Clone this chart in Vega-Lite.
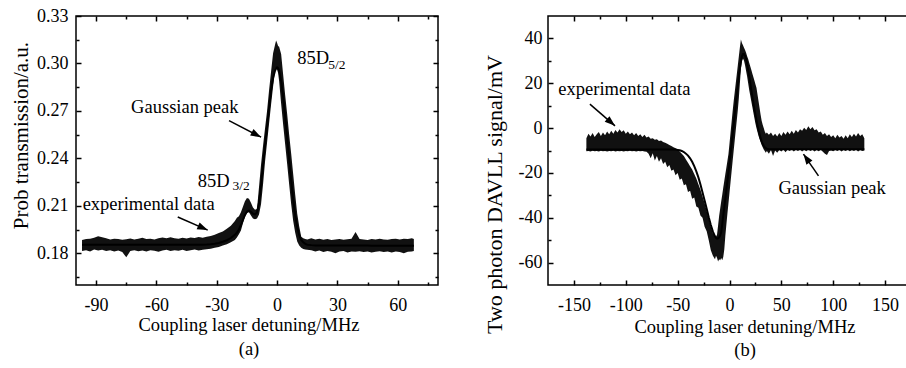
{
"$schema": "https://vega.github.io/schema/vega-lite/v6.json",
"padding": {"left": 9, "top": 6, "right": 0, "bottom": 0},
"spacing": 110,
"bounds": "flush",
"config": {
 "view": {"stroke": "black", "strokeWidth": 1.5},
 "font": "Liberation Serif",
 "axis": {"grid": false, "domain": false, "labelFont": "Liberation Serif", "labelFontSize": 18, "labelColor": "black", "tickColor": "black", "tickWidth": 1.5, "labelFlush": false, "labelOverlap": false, "titleFont": "Liberation Serif", "titleColor": "black", "titleFontWeight": "normal"},
 "text": {"font": "Liberation Serif", "color": "black"}
},
"datasets": {
 "a": [
  {"x":-97,"lo":0.1815,"hi":0.1885,"fit":0.1855},
  {"x":-95,"lo":0.1820,"hi":0.1890,"fit":0.1855},
  {"x":-93,"lo":0.1812,"hi":0.1892,"fit":0.1855},
  {"x":-91,"lo":0.1825,"hi":0.1898,"fit":0.1855},
  {"x":-89,"lo":0.1818,"hi":0.1908,"fit":0.1855},
  {"x":-87,"lo":0.1822,"hi":0.1902,"fit":0.1855},
  {"x":-85,"lo":0.1815,"hi":0.1895,"fit":0.1855},
  {"x":-83,"lo":0.1820,"hi":0.1888,"fit":0.1855},
  {"x":-81,"lo":0.1812,"hi":0.1893,"fit":0.1855},
  {"x":-79,"lo":0.1818,"hi":0.1890,"fit":0.1855},
  {"x":-77,"lo":0.1808,"hi":0.1886,"fit":0.1855},
  {"x":-75,"lo":0.1775,"hi":0.1889,"fit":0.1855},
  {"x":-73,"lo":0.1815,"hi":0.1894,"fit":0.1855},
  {"x":-71,"lo":0.1820,"hi":0.1888,"fit":0.1855},
  {"x":-69,"lo":0.1814,"hi":0.1892,"fit":0.1855},
  {"x":-67,"lo":0.1818,"hi":0.1898,"fit":0.1855},
  {"x":-65,"lo":0.1812,"hi":0.1890,"fit":0.1855},
  {"x":-63,"lo":0.1820,"hi":0.1893,"fit":0.1855},
  {"x":-61,"lo":0.1816,"hi":0.1888,"fit":0.1855},
  {"x":-59,"lo":0.1810,"hi":0.1895,"fit":0.1855},
  {"x":-57,"lo":0.1818,"hi":0.1900,"fit":0.1855},
  {"x":-55,"lo":0.1822,"hi":0.1896,"fit":0.1855},
  {"x":-53,"lo":0.1815,"hi":0.1902,"fit":0.1855},
  {"x":-51,"lo":0.1820,"hi":0.1895,"fit":0.1855},
  {"x":-49,"lo":0.1817,"hi":0.1893,"fit":0.1855},
  {"x":-47,"lo":0.1822,"hi":0.1898,"fit":0.1855},
  {"x":-45,"lo":0.1815,"hi":0.1894,"fit":0.1855},
  {"x":-43,"lo":0.1820,"hi":0.1900,"fit":0.1855},
  {"x":-41,"lo":0.1824,"hi":0.1897,"fit":0.1855},
  {"x":-39,"lo":0.1818,"hi":0.1903,"fit":0.1855},
  {"x":-37,"lo":0.1823,"hi":0.1899,"fit":0.1855},
  {"x":-35,"lo":0.1826,"hi":0.1905,"fit":0.1856},
  {"x":-33,"lo":0.1829,"hi":0.1910,"fit":0.1858},
  {"x":-31,"lo":0.1835,"hi":0.1918,"fit":0.1861},
  {"x":-29,"lo":0.1840,"hi":0.1928,"fit":0.1866},
  {"x":-27,"lo":0.1850,"hi":0.1938,"fit":0.1873},
  {"x":-25,"lo":0.1858,"hi":0.1955,"fit":0.1883},
  {"x":-23,"lo":0.1870,"hi":0.1975,"fit":0.1897},
  {"x":-21,"lo":0.1885,"hi":0.2005,"fit":0.1917},
  {"x":-20,"lo":0.1900,"hi":0.2025,"fit":0.1931},
  {"x":-19,"lo":0.1920,"hi":0.2035,"fit":0.1951},
  {"x":-18,"lo":0.1945,"hi":0.2060,"fit":0.1979},
  {"x":-17,"lo":0.1990,"hi":0.2095,"fit":0.2012},
  {"x":-16,"lo":0.2030,"hi":0.2130,"fit":0.2043},
  {"x":-15,"lo":0.2055,"hi":0.2150,"fit":0.2064},
  {"x":-14,"lo":0.2060,"hi":0.2145,"fit":0.2070},
  {"x":-13,"lo":0.2040,"hi":0.2120,"fit":0.2062},
  {"x":-12,"lo":0.2020,"hi":0.2090,"fit":0.2050},
  {"x":-11,"lo":0.2015,"hi":0.2075,"fit":0.2046},
  {"x":-10,"lo":0.2020,"hi":0.2080,"fit":0.2058},
  {"x":-9,"lo":0.2045,"hi":0.2220,"fit":0.2120},
  {"x":-8,"lo":0.2110,"hi":0.2360,"fit":0.2230},
  {"x":-7,"lo":0.2235,"hi":0.2480,"fit":0.2360},
  {"x":-6,"lo":0.2380,"hi":0.2590,"fit":0.2480},
  {"x":-5,"lo":0.2500,"hi":0.2700,"fit":0.2600},
  {"x":-4,"lo":0.2620,"hi":0.2830,"fit":0.2720},
  {"x":-3,"lo":0.2740,"hi":0.2950,"fit":0.2830},
  {"x":-2,"lo":0.2855,"hi":0.3065,"fit":0.2910},
  {"x":-1,"lo":0.2955,"hi":0.3120,"fit":0.2955},
  {"x":-0.5,"lo":0.2975,"hi":0.3145,"fit":0.2968},
  {"x":0,"lo":0.2960,"hi":0.3130,"fit":0.2975},
  {"x":0.5,"lo":0.2940,"hi":0.3110,"fit":0.2970},
  {"x":1,"lo":0.2890,"hi":0.3105,"fit":0.2955},
  {"x":2,"lo":0.2745,"hi":0.3060,"fit":0.2890},
  {"x":3,"lo":0.2615,"hi":0.2930,"fit":0.2790},
  {"x":4,"lo":0.2490,"hi":0.2800,"fit":0.2665},
  {"x":5,"lo":0.2365,"hi":0.2680,"fit":0.2530},
  {"x":6,"lo":0.2235,"hi":0.2550,"fit":0.2390},
  {"x":7,"lo":0.2110,"hi":0.2430,"fit":0.2260},
  {"x":8,"lo":0.2005,"hi":0.2300,"fit":0.2140},
  {"x":9,"lo":0.1930,"hi":0.2170,"fit":0.2040},
  {"x":10,"lo":0.1875,"hi":0.2050,"fit":0.1965},
  {"x":11,"lo":0.1850,"hi":0.1970,"fit":0.1915},
  {"x":12,"lo":0.1835,"hi":0.1905,"fit":0.1885},
  {"x":13,"lo":0.1828,"hi":0.1895,"fit":0.1870},
  {"x":14,"lo":0.1825,"hi":0.1890,"fit":0.1860},
  {"x":15,"lo":0.1822,"hi":0.1888,"fit":0.1855},
  {"x":17,"lo":0.1820,"hi":0.1895,"fit":0.1852},
  {"x":19,"lo":0.1812,"hi":0.1888,"fit":0.1850},
  {"x":21,"lo":0.1818,"hi":0.1892,"fit":0.1850},
  {"x":23,"lo":0.1808,"hi":0.1886,"fit":0.1850},
  {"x":25,"lo":0.1815,"hi":0.1890,"fit":0.1850},
  {"x":27,"lo":0.1810,"hi":0.1885,"fit":0.1850},
  {"x":29,"lo":0.1800,"hi":0.1888,"fit":0.1850},
  {"x":31,"lo":0.1812,"hi":0.1890,"fit":0.1850},
  {"x":33,"lo":0.1815,"hi":0.1886,"fit":0.1849},
  {"x":35,"lo":0.1806,"hi":0.1889,"fit":0.1849},
  {"x":37,"lo":0.1812,"hi":0.1892,"fit":0.1849},
  {"x":39,"lo":0.1810,"hi":0.1935,"fit":0.1849},
  {"x":41,"lo":0.1814,"hi":0.1890,"fit":0.1849},
  {"x":43,"lo":0.1808,"hi":0.1888,"fit":0.1849},
  {"x":45,"lo":0.1812,"hi":0.1885,"fit":0.1849},
  {"x":47,"lo":0.1805,"hi":0.1890,"fit":0.1848},
  {"x":49,"lo":0.1810,"hi":0.1887,"fit":0.1848},
  {"x":51,"lo":0.1814,"hi":0.1892,"fit":0.1848},
  {"x":53,"lo":0.1808,"hi":0.1888,"fit":0.1848},
  {"x":55,"lo":0.1812,"hi":0.1886,"fit":0.1848},
  {"x":57,"lo":0.1806,"hi":0.1890,"fit":0.1848},
  {"x":59,"lo":0.1812,"hi":0.1893,"fit":0.1848},
  {"x":61,"lo":0.1808,"hi":0.1888,"fit":0.1848},
  {"x":63,"lo":0.1800,"hi":0.1892,"fit":0.1848},
  {"x":65,"lo":0.1810,"hi":0.1890,"fit":0.1848},
  {"x":67,"lo":0.1812,"hi":0.1895,"fit":0.1848},
  {"x":68,"lo":0.1815,"hi":0.1890,"fit":0.1848}
 ],
 "b": [
  {"x":-138,"lo":-10.3,"hi":-4.5,"fit":-9.5},
  {"x":-136,"lo":-10.2,"hi":-2.5,"fit":-9.5},
  {"x":-134,"lo":-10.4,"hi":-3.8,"fit":-9.5},
  {"x":-132,"lo":-10.1,"hi":-2.2,"fit":-9.5},
  {"x":-130,"lo":-10.3,"hi":-4.0,"fit":-9.5},
  {"x":-128,"lo":-10.2,"hi":-2.8,"fit":-9.5},
  {"x":-126,"lo":-10.4,"hi":-1.8,"fit":-9.5},
  {"x":-124,"lo":-10.1,"hi":-3.5,"fit":-9.5},
  {"x":-122,"lo":-10.3,"hi":-2.0,"fit":-9.5},
  {"x":-120,"lo":-10.2,"hi":-3.2,"fit":-9.5},
  {"x":-118,"lo":-10.4,"hi":-1.5,"fit":-9.5},
  {"x":-116,"lo":-10.2,"hi":-2.8,"fit":-9.5},
  {"x":-114,"lo":-10.3,"hi":-1.2,"fit":-9.5},
  {"x":-112,"lo":-10.1,"hi":-2.5,"fit":-9.5},
  {"x":-110,"lo":-10.4,"hi":-0.8,"fit":-9.5},
  {"x":-108,"lo":-10.2,"hi":-2.0,"fit":-9.5},
  {"x":-106,"lo":-10.3,"hi":-0.5,"fit":-9.5},
  {"x":-104,"lo":-10.2,"hi":-1.8,"fit":-9.5},
  {"x":-102,"lo":-10.4,"hi":-1.0,"fit":-9.5},
  {"x":-100,"lo":-10.2,"hi":-2.5,"fit":-9.5},
  {"x":-98,"lo":-10.3,"hi":-1.5,"fit":-9.5},
  {"x":-96,"lo":-10.1,"hi":-2.8,"fit":-9.5},
  {"x":-94,"lo":-10.3,"hi":-2.0,"fit":-9.5},
  {"x":-92,"lo":-10.2,"hi":-3.2,"fit":-9.5},
  {"x":-90,"lo":-10.4,"hi":-2.2,"fit":-9.5},
  {"x":-88,"lo":-10.2,"hi":-3.5,"fit":-9.5},
  {"x":-86,"lo":-10.3,"hi":-2.8,"fit":-9.5},
  {"x":-84,"lo":-10.2,"hi":-4.0,"fit":-9.5},
  {"x":-82,"lo":-10.4,"hi":-3.0,"fit":-9.5},
  {"x":-80,"lo":-10.6,"hi":-4.2,"fit":-9.5},
  {"x":-78,"lo":-11.5,"hi":-3.8,"fit":-9.5},
  {"x":-76,"lo":-13.5,"hi":-4.8,"fit":-9.5},
  {"x":-74,"lo":-11.2,"hi":-4.5,"fit":-9.5},
  {"x":-72,"lo":-14.5,"hi":-5.2,"fit":-9.5},
  {"x":-70,"lo":-12.5,"hi":-5.0,"fit":-9.5},
  {"x":-68,"lo":-15.0,"hi":-5.8,"fit":-9.5},
  {"x":-66,"lo":-13.5,"hi":-5.5,"fit":-9.5},
  {"x":-64,"lo":-16.0,"hi":-6.2,"fit":-9.5},
  {"x":-62,"lo":-15.0,"hi":-6.5,"fit":-9.5},
  {"x":-60,"lo":-17.5,"hi":-7.0,"fit":-9.5},
  {"x":-58,"lo":-16.5,"hi":-7.5,"fit":-9.5},
  {"x":-56,"lo":-19.0,"hi":-8.0,"fit":-9.5},
  {"x":-54,"lo":-18.5,"hi":-8.5,"fit":-9.55},
  {"x":-52,"lo":-21.0,"hi":-9.0,"fit":-9.6},
  {"x":-50,"lo":-20.0,"hi":-9.5,"fit":-9.75},
  {"x":-48,"lo":-23.0,"hi":-10.5,"fit":-9.9},
  {"x":-46,"lo":-22.5,"hi":-11.5,"fit":-10.2},
  {"x":-44,"lo":-25.5,"hi":-12.5,"fit":-10.7},
  {"x":-42,"lo":-25.0,"hi":-14.0,"fit":-11.4},
  {"x":-40,"lo":-28.5,"hi":-15.5,"fit":-12.3},
  {"x":-38,"lo":-28.0,"hi":-17.0,"fit":-13.5},
  {"x":-36,"lo":-31.5,"hi":-18.5,"fit":-15.0},
  {"x":-34,"lo":-31.0,"hi":-20.5,"fit":-17.0},
  {"x":-32,"lo":-35.0,"hi":-22.5,"fit":-19.3},
  {"x":-30,"lo":-35.5,"hi":-25.0,"fit":-22.0},
  {"x":-28,"lo":-39.0,"hi":-27.5,"fit":-25.2},
  {"x":-26,"lo":-40.0,"hi":-30.5,"fit":-28.7},
  {"x":-24,"lo":-44.0,"hi":-33.5,"fit":-32.3},
  {"x":-22,"lo":-46.0,"hi":-37.0,"fit":-36.0},
  {"x":-20,"lo":-50.0,"hi":-40.5,"fit":-39.8},
  {"x":-18,"lo":-54.5,"hi":-44.0,"fit":-43.2},
  {"x":-16,"lo":-57.0,"hi":-47.0,"fit":-46.2},
  {"x":-14,"lo":-58.5,"hi":-48.0,"fit":-48.3},
  {"x":-13,"lo":-57.0,"hi":-48.5,"fit":-49.0},
  {"x":-12,"lo":-58.0,"hi":-47.5,"fit":-49.3},
  {"x":-11,"lo":-59.5,"hi":-43.5,"fit":-49.2},
  {"x":-10,"lo":-58.5,"hi":-39.2,"fit":-48.8},
  {"x":-9,"lo":-59.0,"hi":-36.0,"fit":-47.9},
  {"x":-8,"lo":-58.0,"hi":-32.8,"fit":-46.5},
  {"x":-7,"lo":-59.0,"hi":-29.7,"fit":-43.0},
  {"x":-6,"lo":-57.5,"hi":-26.5,"fit":-39.0},
  {"x":-5,"lo":-54.0,"hi":-23.5,"fit":-35.3},
  {"x":-4,"lo":-48.0,"hi":-20.5,"fit":-31.5},
  {"x":-3,"lo":-43.0,"hi":-17.6,"fit":-27.5},
  {"x":-2,"lo":-38.1,"hi":-14.6,"fit":-23.5},
  {"x":-1,"lo":-33.5,"hi":-11.6,"fit":-19.5},
  {"x":0,"lo":-28.8,"hi":-6.9,"fit":-15.5},
  {"x":1,"lo":-24.2,"hi":-2.1,"fit":-11.3},
  {"x":2,"lo":-19.5,"hi":2.6,"fit":-7.0},
  {"x":3,"lo":-14.8,"hi":7.4,"fit":-2.8},
  {"x":4,"lo":-10.2,"hi":11.9,"fit":1.5},
  {"x":5,"lo":-5.7,"hi":15.9,"fit":6.0},
  {"x":6,"lo":-1.1,"hi":19.9,"fit":10.5},
  {"x":7,"lo":3.4,"hi":23.9,"fit":14.8},
  {"x":8,"lo":8.0,"hi":27.9,"fit":19.0},
  {"x":9,"lo":13.3,"hi":31.9,"fit":23.0},
  {"x":10,"lo":19.9,"hi":35.9,"fit":26.5},
  {"x":11,"lo":26.5,"hi":39.5,"fit":29.5},
  {"x":12,"lo":30.0,"hi":38.0,"fit":32.0},
  {"x":13,"lo":31.0,"hi":37.0,"fit":33.0},
  {"x":14,"lo":30.0,"hi":35.8,"fit":33.0},
  {"x":15,"lo":28.0,"hi":34.8,"fit":32.2},
  {"x":16,"lo":25.5,"hi":33.6,"fit":31.0},
  {"x":17,"lo":23.0,"hi":32.0,"fit":28.7},
  {"x":18,"lo":20.0,"hi":30.8,"fit":26.0},
  {"x":19,"lo":17.0,"hi":29.2,"fit":23.0},
  {"x":20,"lo":14.5,"hi":27.6,"fit":20.0},
  {"x":21,"lo":12.0,"hi":26.0,"fit":17.0},
  {"x":22,"lo":9.5,"hi":24.4,"fit":14.0},
  {"x":23,"lo":7.0,"hi":22.8,"fit":11.2},
  {"x":24,"lo":4.5,"hi":21.2,"fit":8.5},
  {"x":25,"lo":2.0,"hi":19.6,"fit":6.0},
  {"x":26,"lo":0.0,"hi":18.0,"fit":3.5},
  {"x":27,"lo":-1.8,"hi":15.0,"fit":1.2},
  {"x":28,"lo":-3.5,"hi":12.0,"fit":-1.0},
  {"x":29,"lo":-5.0,"hi":9.0,"fit":-2.8},
  {"x":30,"lo":-6.2,"hi":6.0,"fit":-4.5},
  {"x":31,"lo":-7.5,"hi":3.3,"fit":-5.9},
  {"x":32,"lo":-8.5,"hi":1.5,"fit":-7.0},
  {"x":33,"lo":-9.5,"hi":0.0,"fit":-7.9},
  {"x":34,"lo":-10.2,"hi":-1.5,"fit":-8.6},
  {"x":35,"lo":-11.0,"hi":-2.5,"fit":-9.0},
  {"x":36,"lo":-10.2,"hi":-2.0,"fit":-9.2},
  {"x":38,"lo":-11.5,"hi":-3.0,"fit":-9.4},
  {"x":40,"lo":-9.8,"hi":-2.0,"fit":-9.4},
  {"x":42,"lo":-12.5,"hi":-3.5,"fit":-9.4},
  {"x":44,"lo":-10.0,"hi":-2.5,"fit":-9.4},
  {"x":46,"lo":-11.0,"hi":-3.8,"fit":-9.4},
  {"x":48,"lo":-9.8,"hi":-2.2,"fit":-9.4},
  {"x":50,"lo":-10.5,"hi":-3.5,"fit":-9.4},
  {"x":52,"lo":-9.6,"hi":-1.8,"fit":-9.4},
  {"x":54,"lo":-10.8,"hi":-3.0,"fit":-9.4},
  {"x":56,"lo":-9.7,"hi":-1.5,"fit":-9.4},
  {"x":58,"lo":-10.2,"hi":-2.8,"fit":-9.4},
  {"x":60,"lo":-9.6,"hi":-1.2,"fit":-9.4},
  {"x":62,"lo":-10.5,"hi":-2.5,"fit":-9.4},
  {"x":64,"lo":-9.7,"hi":-0.8,"fit":-9.4},
  {"x":66,"lo":-10.2,"hi":-2.0,"fit":-9.4},
  {"x":68,"lo":-9.6,"hi":-0.5,"fit":-9.4},
  {"x":70,"lo":-10.4,"hi":-1.2,"fit":-9.4},
  {"x":72,"lo":-9.7,"hi":0.2,"fit":-9.4},
  {"x":74,"lo":-10.3,"hi":-0.8,"fit":-9.4},
  {"x":76,"lo":-9.6,"hi":0.8,"fit":-9.4},
  {"x":78,"lo":-10.2,"hi":-0.5,"fit":-9.4},
  {"x":80,"lo":-9.7,"hi":0.5,"fit":-9.4},
  {"x":82,"lo":-10.5,"hi":-1.0,"fit":-9.4},
  {"x":84,"lo":-9.8,"hi":-0.5,"fit":-9.4},
  {"x":86,"lo":-10.3,"hi":-2.0,"fit":-9.4},
  {"x":88,"lo":-9.7,"hi":-1.5,"fit":-9.4},
  {"x":90,"lo":-10.6,"hi":-3.0,"fit":-9.4},
  {"x":92,"lo":-11.5,"hi":-2.2,"fit":-9.4},
  {"x":94,"lo":-12.0,"hi":-3.5,"fit":-9.4},
  {"x":96,"lo":-10.2,"hi":-2.8,"fit":-9.4},
  {"x":98,"lo":-10.0,"hi":-4.0,"fit":-9.4},
  {"x":100,"lo":-10.3,"hi":-3.2,"fit":-9.4},
  {"x":102,"lo":-9.8,"hi":-4.5,"fit":-9.4},
  {"x":104,"lo":-10.2,"hi":-3.0,"fit":-9.4},
  {"x":106,"lo":-9.7,"hi":-4.2,"fit":-9.4},
  {"x":108,"lo":-10.4,"hi":-3.5,"fit":-9.4},
  {"x":110,"lo":-9.8,"hi":-4.8,"fit":-9.4},
  {"x":112,"lo":-10.2,"hi":-3.2,"fit":-9.4},
  {"x":114,"lo":-9.7,"hi":-4.5,"fit":-9.4},
  {"x":116,"lo":-10.3,"hi":-2.8,"fit":-9.4},
  {"x":118,"lo":-9.8,"hi":-4.0,"fit":-9.4},
  {"x":120,"lo":-10.2,"hi":-2.5,"fit":-9.4},
  {"x":122,"lo":-9.7,"hi":-3.8,"fit":-9.4},
  {"x":124,"lo":-10.4,"hi":-2.2,"fit":-9.4},
  {"x":126,"lo":-9.8,"hi":-3.5,"fit":-9.4},
  {"x":128,"lo":-10.2,"hi":-2.8,"fit":-9.4},
  {"x":130,"lo":-10.0,"hi":-4.5,"fit":-9.4}
 ]
},
"hconcat": [
 {
  "width": 362, "height": 269,
  "resolve": {"axis": {"x": "independent", "y": "independent"}},
  "layer": [
   {"data": {"name": "a"}, "mark": {"type": "area", "color": "#111111", "opacity": 1},
    "encoding": {
     "x": {"field": "x", "type": "quantitative", "scale": {"domain": [-100, 80], "nice": false, "zero": false},
       "axis": {"orient": "bottom", "values": [-90, -60, -30, 0, 30, 60], "tickSize": -5, "labelPadding": 16, "labelExpr": "'' + datum.value",
         "title": ["Coupling laser detuning/MHz", "(a)"], "titleFontSize": 18.5, "titleX": 172.5, "titleY": 45, "titleAlign": "center", "titleBaseline": "alphabetic", "titleLineHeight": 24, "titleAngle": 0}},
     "y": {"field": "lo", "type": "quantitative", "scale": {"domain": [0.16, 0.33], "nice": false, "zero": false},
       "axis": {"orient": "left", "values": [0.18, 0.21, 0.24, 0.27, 0.30, 0.33], "tickSize": -5, "labelPadding": 13, "labelExpr": "format(datum.value, '.2f')",
         "title": "Prob transmission/a.u.", "titleFontSize": 21, "titleAngle": 270, "titleX": -54.5, "titleY": 119, "titleAlign": "center", "titleBaseline": "middle"}},
     "y2": {"field": "hi"}
    }},
   {"data": {"name": "a"}, "mark": {"type": "line", "color": "black", "strokeWidth": 2},
    "encoding": {
     "x": {"field": "x", "type": "quantitative", "scale": {"domain": [-100, 80], "nice": false, "zero": false},
       "axis": {"orient": "bottom", "values": [-75, -45, -15, 15, 45, 75], "tickSize": -3, "labels": false, "title": null}},
     "y": {"field": "fit", "type": "quantitative", "scale": {"domain": [0.16, 0.33], "nice": false, "zero": false},
       "axis": {"orient": "left", "values": [0.165, 0.195, 0.225, 0.255, 0.285, 0.315], "tickSize": -3, "labels": false, "title": null}}
    }},
   {"data": {"values": [{"x": -23.9, "y": 0.2639, "x2": -7.96, "y2": 0.2534}, {"x": -49.4, "y": 0.2030, "x2": -34.5, "y2": 0.1947}]},
    "mark": {"type": "rule", "color": "black", "strokeWidth": 1.5},
    "encoding": {
     "x": {"field": "x", "type": "quantitative", "scale": {"domain": [-100, 80], "nice": false, "zero": false},
       "axis": {"orient": "top", "values": [-90, -60, -30, 0, 30, 60], "tickSize": -5, "labels": false, "title": null}},
     "y": {"field": "y", "type": "quantitative", "scale": {"domain": [0.16, 0.33], "nice": false, "zero": false},
       "axis": {"orient": "right", "values": [0.18, 0.21, 0.24, 0.27, 0.30, 0.33], "tickSize": -5, "labels": false, "title": null}},
     "x2": {"field": "x2"}, "y2": {"field": "y2"}
    }},
   {"data": {"values": [{"x": -72.6, "y": 0.2686, "t": "Gaussian peak"}, {"x": -96.7, "y": 0.2073, "t": "experimental data"}, {"x": 10, "y": 0.2998, "t": "85D"}, {"x": -39.5, "y": 0.2219, "t": "85D"}]},
    "mark": {"type": "text", "align": "left", "baseline": "alphabetic", "fontSize": 18.5, "font": "Liberation Serif", "color": "black"},
    "encoding": {
     "x": {"field": "x", "type": "quantitative", "scale": {"domain": [-100, 80], "nice": false, "zero": false},
       "axis": {"orient": "top", "values": [-75, -45, -15, 15, 45, 75], "tickSize": -3, "labels": false, "title": null}},
     "y": {"field": "y", "type": "quantitative", "scale": {"domain": [0.16, 0.33], "nice": false, "zero": false},
       "axis": {"orient": "right", "values": [0.165, 0.195, 0.225, 0.255, 0.285, 0.315], "tickSize": -3, "labels": false, "title": null}},
     "text": {"field": "t"}
    }},
   {"data": {"values": [{"x": 25.4, "y": 0.2962, "t": "5/2"}, {"x": -22.2, "y": 0.2198, "t": "3/2"}]},
    "mark": {"type": "text", "align": "left", "baseline": "alphabetic", "fontSize": 13.5, "font": "Liberation Serif", "color": "black"},
    "encoding": {
     "x": {"field": "x", "type": "quantitative", "scale": {"domain": [-100, 80], "nice": false, "zero": false}, "axis": null},
     "y": {"field": "y", "type": "quantitative", "scale": {"domain": [0.16, 0.33], "nice": false, "zero": false}, "axis": null},
     "text": {"field": "t"}
    }},
   {"data": {"values": [{"x": -7.96, "y": 0.2534}]},
    "mark": {"type": "point", "shape": "M0,0L-2,-0.7L-2,0.7Z", "filled": true, "size": 110, "angle": 27.6, "color": "black", "opacity": 1},
    "encoding": {
     "x": {"field": "x", "type": "quantitative", "scale": {"domain": [-100, 80], "nice": false, "zero": false}, "axis": null},
     "y": {"field": "y", "type": "quantitative", "scale": {"domain": [0.16, 0.33], "nice": false, "zero": false}, "axis": null}
    }},
   {"data": {"values": [{"x": -34.5, "y": 0.1947}]},
    "mark": {"type": "point", "shape": "M0,0L-2,-0.7L-2,0.7Z", "filled": true, "size": 110, "angle": 23.9, "color": "black", "opacity": 1},
    "encoding": {
     "x": {"field": "x", "type": "quantitative", "scale": {"domain": [-100, 80], "nice": false, "zero": false}, "axis": null},
     "y": {"field": "y", "type": "quantitative", "scale": {"domain": [0.16, 0.33], "nice": false, "zero": false}, "axis": null}
    }}
  ]
 },
 {
  "width": 363, "height": 269,
  "resolve": {"axis": {"x": "independent", "y": "independent"}},
  "layer": [
   {"data": {"name": "b"}, "mark": {"type": "area", "color": "#111111", "opacity": 1},
    "encoding": {
     "x": {"field": "x", "type": "quantitative", "scale": {"domain": [-175, 175], "nice": false, "zero": false},
       "axis": {"orient": "bottom", "values": [-150, -100, -50, 0, 50, 100, 150], "tickSize": -5, "labelPadding": 16, "labelExpr": "'' + datum.value",
         "title": ["Coupling laser detuning/MHz", "(b)"], "titleFontSize": 18.5, "titleX": 196.5, "titleY": 47, "titleAlign": "center", "titleBaseline": "alphabetic", "titleLineHeight": 23, "titleAngle": 0}},
     "y": {"field": "lo", "type": "quantitative", "scale": {"domain": [-70, 50], "nice": false, "zero": false},
       "axis": {"orient": "left", "values": [-60, -40, -20, 0, 20, 40], "tickSize": -5, "labelPadding": 11, "labelExpr": "'' + datum.value",
         "title": "Two photon DAVLL signal/mV", "titleFontSize": 22, "titleAngle": 270, "titleX": -53.3, "titleY": 178, "titleAlign": "center", "titleBaseline": "middle"}},
     "y2": {"field": "hi"}
    }},
   {"data": {"name": "b"}, "mark": {"type": "line", "color": "black", "strokeWidth": 2},
    "encoding": {
     "x": {"field": "x", "type": "quantitative", "scale": {"domain": [-175, 175], "nice": false, "zero": false},
       "axis": {"orient": "bottom", "values": [-125, -75, -25, 25, 75, 125], "tickSize": -3, "labels": false, "title": null}},
     "y": {"field": "fit", "type": "quantitative", "scale": {"domain": [-70, 50], "nice": false, "zero": false},
       "axis": {"orient": "left", "values": [-50, -30, -10, 10, 30], "tickSize": -3, "labels": false, "title": null}}
    }},
   {"data": {"values": [{"x": -134.6, "y": 10.7, "x2": -110.4, "y2": 1.0}, {"x": 85.8, "y": -21.3, "x2": 71.3, "y2": -11.6}]},
    "mark": {"type": "rule", "color": "black", "strokeWidth": 1.5},
    "encoding": {
     "x": {"field": "x", "type": "quantitative", "scale": {"domain": [-175, 175], "nice": false, "zero": false},
       "axis": {"orient": "top", "values": [-150, -100, -50, 0, 50, 100, 150], "tickSize": -5, "labels": false, "title": null}},
     "y": {"field": "y", "type": "quantitative", "scale": {"domain": [-70, 50], "nice": false, "zero": false},
       "axis": {"orient": "right", "values": [-60, -40, -20, 0, 20, 40], "tickSize": -5, "labels": false, "title": null}},
     "x2": {"field": "x2"}, "y2": {"field": "y2"}
    }},
   {"data": {"values": [{"x": -165, "y": 14.6, "t": "experimental data"}, {"x": 47.2, "y": -29.6, "t": "Gaussian peak"}]},
    "mark": {"type": "text", "align": "left", "baseline": "alphabetic", "fontSize": 18.5, "font": "Liberation Serif", "color": "black"},
    "encoding": {
     "x": {"field": "x", "type": "quantitative", "scale": {"domain": [-175, 175], "nice": false, "zero": false},
       "axis": {"orient": "top", "values": [-125, -75, -25, 25, 75, 125], "tickSize": -3, "labels": false, "title": null}},
     "y": {"field": "y", "type": "quantitative", "scale": {"domain": [-70, 50], "nice": false, "zero": false},
       "axis": {"orient": "right", "values": [-50, -30, -10, 10, 30], "tickSize": -3, "labels": false, "title": null}},
     "text": {"field": "t"}
    }},
   {"data": {"values": [{"x": -110.4, "y": 1.0}]},
    "mark": {"type": "point", "shape": "M0,0L-2,-0.7L-2,0.7Z", "filled": true, "size": 110, "angle": 41, "color": "black", "opacity": 1},
    "encoding": {
     "x": {"field": "x", "type": "quantitative", "scale": {"domain": [-175, 175], "nice": false, "zero": false}, "axis": null},
     "y": {"field": "y", "type": "quantitative", "scale": {"domain": [-70, 50], "nice": false, "zero": false}, "axis": null}
    }},
   {"data": {"values": [{"x": 71.3, "y": -11.6}]},
    "mark": {"type": "point", "shape": "M0,0L-2,-0.7L-2,0.7Z", "filled": true, "size": 110, "angle": 235.3, "color": "black", "opacity": 1},
    "encoding": {
     "x": {"field": "x", "type": "quantitative", "scale": {"domain": [-175, 175], "nice": false, "zero": false}, "axis": null},
     "y": {"field": "y", "type": "quantitative", "scale": {"domain": [-70, 50], "nice": false, "zero": false}, "axis": null}
    }}
  ]
 }
]
}
